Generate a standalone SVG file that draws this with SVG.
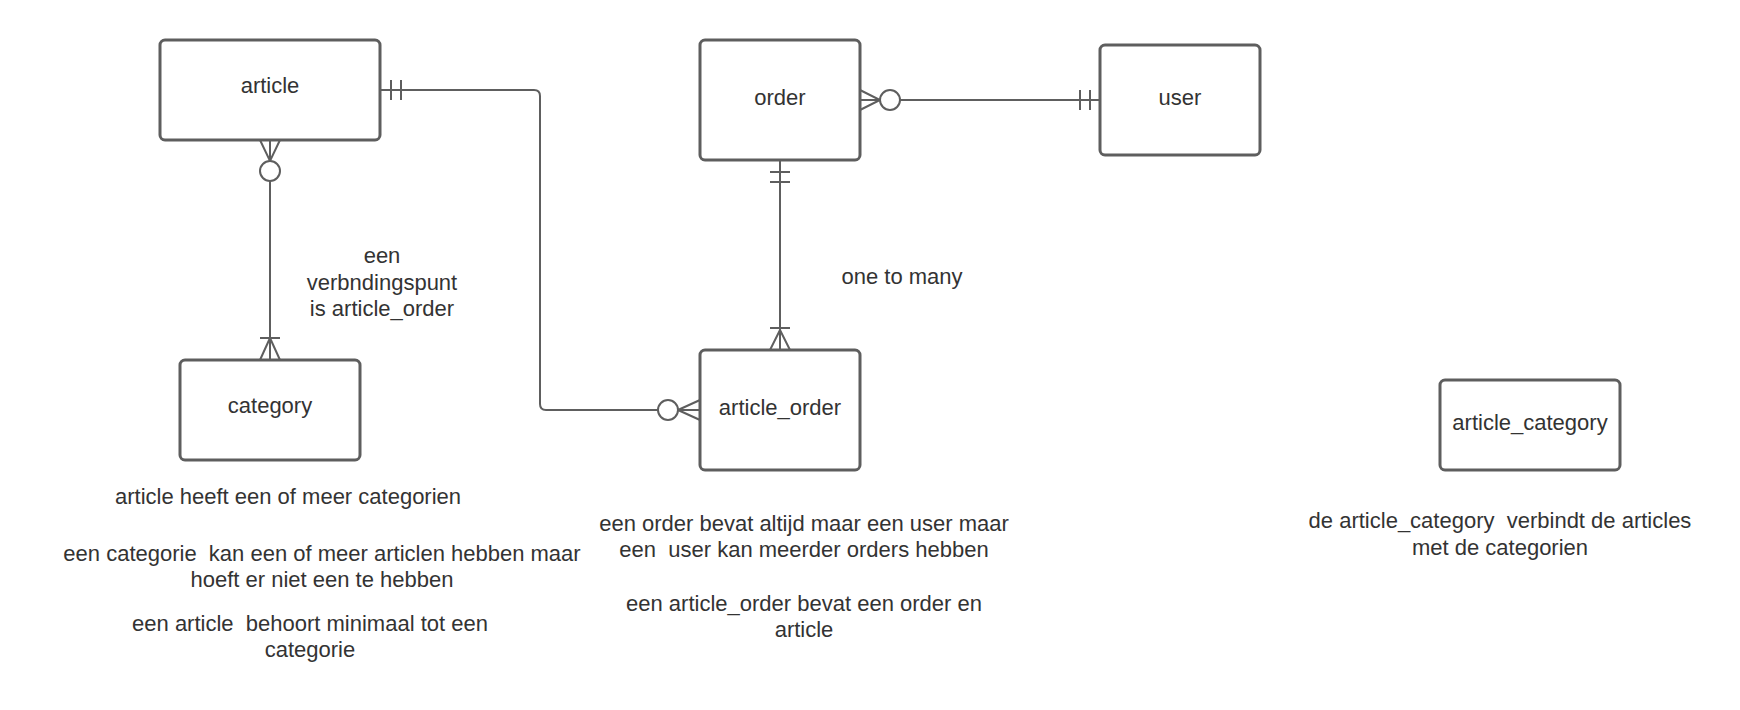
<svg xmlns="http://www.w3.org/2000/svg" width="1740" height="710" viewBox="0 0 1740 710" xml:space="preserve">
<style>
.box{fill:#ffffff;stroke:#5e5e5e;stroke-width:3}
.ln{fill:none;stroke:#5e5e5e;stroke-width:2}
.cir{fill:#ffffff;stroke:#5e5e5e;stroke-width:2}
text{font-family:"Liberation Sans",Arial,sans-serif;font-size:22px;fill:#333333;text-anchor:middle;white-space:pre}
</style>
<rect width="1740" height="710" fill="#ffffff"/>
<g id="connectors">
<path class="ln" d="M380,90 H534 Q540,90 540,96 V404 Q540,410 546,410 H658"/>
<path class="ln" d="M391,80 V100 M401,80 V100"/>
<path class="ln" d="M678,410 L700,400 M678,410 L700,420 M678,410 H700"/>
<circle class="cir" cx="668" cy="410" r="10"/>
<path class="ln" d="M270,140 V360"/>
<path class="ln" d="M260,140 L270,161 L280,140"/>
<circle class="cir" cx="270" cy="171" r="10"/>
<path class="ln" d="M260,338 H280 M260,360 L270,338 L280,360"/>
<path class="ln" d="M780,160 V350"/>
<path class="ln" d="M770,172 H790 M770,182 H790"/>
<path class="ln" d="M770,328 H790 M770,350 L780,330 L790,350"/>
<path class="ln" d="M860,100 H1100"/>
<path class="ln" d="M860,90 L880,100 L860,110"/>
<circle class="cir" cx="890" cy="100" r="10"/>
<path class="ln" d="M1080,90 V110 M1090,90 V110"/>
</g>
<g id="article"><rect class="box" x="160" y="40" width="220" height="100" rx="5"/><text x="270" y="93">article</text></g>
<g id="order"><rect class="box" x="700" y="40" width="160" height="120" rx="5"/><text x="780" y="105">order</text></g>
<g id="user"><rect class="box" x="1100" y="45" width="160" height="110" rx="5"/><text x="1180" y="105">user</text></g>
<g id="category"><rect class="box" x="180" y="360" width="180" height="100" rx="5"/><text x="270" y="413">category</text></g>
<g id="article_order"><rect class="box" x="700" y="350" width="160" height="120" rx="5"/><text x="780" y="415">article_order</text></g>
<g id="article_category"><rect class="box" x="1440" y="380" width="180" height="90" rx="5"/><text x="1530" y="430">article_category</text></g>
<g id="labels">
<text x="382" y="263">een</text>
<text x="382" y="290">verbndingspunt</text>
<text x="382" y="316">is article_order</text>
<text x="902" y="284">one to many</text>
<text x="288" y="504">article heeft een of meer categorien</text>
<text x="322" y="561">een categorie  kan een of meer articlen hebben maar</text>
<text x="322" y="587">hoeft er niet een te hebben</text>
<text x="310" y="631">een article  behoort minimaal tot een</text>
<text x="310" y="657">categorie</text>
<text x="804" y="531">een order bevat altijd maar een user maar</text>
<text x="804" y="557">een  user kan meerder orders hebben</text>
<text x="804" y="611">een article_order bevat een order en</text>
<text x="804" y="637">article</text>
<text x="1500" y="528">de article_category  verbindt de articles</text>
<text x="1500" y="555">met de categorien</text>
</g>
</svg>
